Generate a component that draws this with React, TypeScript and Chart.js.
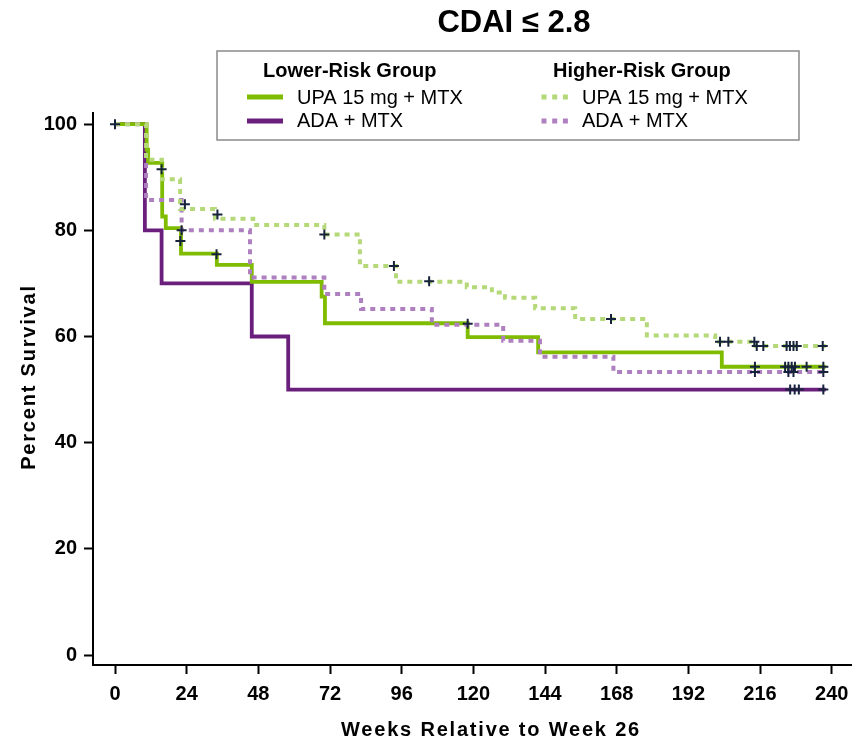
import React, { useEffect, useRef } from 'react';
import { Chart, registerables } from 'chart.js';

Chart.register(...registerables);

const FONT = '"Liberation Sans", Arial, Helvetica, sans-serif';

// Axis ticks
const xTickValues = [0, 24, 48, 72, 96, 120, 144, 168, 192, 216, 240];
const yTickValues = [0, 20, 40, 60, 80, 100];
const endWeek = 238;

// Lower-risk UPA 15 mg + MTX (solid green)
const lowerUpaWeeks = [0, 10.6, 11.1, 15.8, 17.0, 22.1, 34.1, 45.8, 69.2, 70.3, 118.1, 141.7, 203.2];
const lowerUpaPct = [100, 95.2, 92.7, 82.6, 80.4, 75.6, 73.5, 70.3, 67.5, 62.5, 59.9, 57.0, 54.3];
const lowerUpaCensorWeeks = [0, 15.6, 21.9, 34.0, 118.1, 214.3, 224.4, 225.5, 226.6, 227.7, 231.6, 237.2];
const lowerUpaCensorPct = [100, 91.5, 78.0, 75.5, 62.4, 54.3, 54.3, 54.3, 54.3, 54.3, 54.3, 54.3];

// Lower-risk ADA + MTX (solid purple)
const lowerAdaWeeks = [0, 10.0, 15.6, 45.8, 58.0];
const lowerAdaPct = [100, 80, 70, 60, 50];
const lowerAdaCensorWeeks = [226.1, 227.6, 229.0, 237.2];
const lowerAdaCensorPct = [50, 50, 50, 50];

// Higher-risk UPA 15 mg + MTX (dotted light green)
const higherUpaWeeks = [0, 10.4, 15.7, 21.8, 33.5, 46.3, 70.1, 82.0, 94.1, 117.8, 126.2, 130.6, 140.7, 154.1, 178.1, 201.0, 214.5];
const higherUpaPct = [100, 93.3, 89.6, 84.0, 82.2, 81.0, 79.2, 73.3, 70.3, 69.3, 68.3, 67.3, 65.3, 63.3, 60.2, 59.0, 58.2];
const higherUpaCensorWeeks = [23.4, 34.3, 70.1, 93.4, 105.2, 166.1, 202.6, 205.4, 214.1, 214.9, 217.1, 224.9, 226.0, 227.2, 228.3, 237.0];
const higherUpaCensorPct = [84.9, 83.0, 79.2, 73.3, 70.4, 63.3, 59.0, 59.0, 59.0, 58.2, 58.2, 58.2, 58.2, 58.2, 58.2, 58.2];

// Higher-risk ADA + MTX (dotted light purple)
const higherAdaWeeks = [0, 10.4, 22.3, 45.2, 70.1, 82.4, 106.1, 130.0, 142.3, 166.9];
const higherAdaPct = [100, 85.7, 80.0, 71.1, 68.0, 65.2, 62.2, 59.2, 56.2, 53.3];
const higherAdaCensorWeeks = [22.3, 214.3, 225.5, 227.2, 237.2];
const higherAdaCensorPct = [80.0, 53.3, 53.3, 53.3, 53.3];

const C_UPA = '#7fbc00';
const C_ADA = '#6b1f7d';
const C_UPA_HI = '#b5d878';
const C_ADA_HI = '#ae80c0';
const C_CENSOR = '#16223c';

function steps(weeks: number[], pct: number[], end: number) {
  const pts: { x: number; y: number }[] = [{ x: weeks[0], y: pct[0] }];
  for (let i = 1; i < weeks.length; i++) {
    pts.push({ x: weeks[i], y: pct[i - 1] });
    pts.push({ x: weeks[i], y: pct[i] });
  }
  pts.push({ x: end, y: pct[pct.length - 1] });
  return pts;
}

function pairs(xs: number[], ys: number[]) {
  return xs.map((x, i) => ({ x, y: ys[i] }));
}

const decorPlugin = {
  id: 'decor',
  afterDraw(chart: any) {
    const ctx: CanvasRenderingContext2D = chart.ctx;
    ctx.save();
    ctx.fillStyle = '#000';
    // Title
    ctx.font = `bold 31px ${FONT}`;
    ctx.textAlign = 'center';
    ctx.textBaseline = 'alphabetic';
    ctx.fillText('CDAI ≤ 2.8', 514, 32);

    // Legend box
    ctx.strokeStyle = '#8a8a8a';
    ctx.lineWidth = 1.5;
    ctx.strokeRect(217, 51, 582, 89);

    ctx.textAlign = 'left';
    ctx.font = `bold 20px ${FONT}`;
    ctx.fillText('Lower-Risk Group', 263, 77);
    ctx.fillText('Higher-Risk Group', 553, 77);

    const sample = (x0: number, x1: number, y: number, color: string, dash: number[]) => {
      ctx.beginPath();
      ctx.setLineDash(dash);
      ctx.strokeStyle = color;
      ctx.lineWidth = 5;
      ctx.lineCap = 'butt';
      ctx.moveTo(x0, y);
      ctx.lineTo(x1, y);
      ctx.stroke();
      ctx.setLineDash([]);
    };
    sample(247, 283, 97, C_UPA, []);
    sample(247, 283, 121, C_ADA, []);
    sample(541.5, 569, 97, C_UPA_HI, [5, 5.7]);
    sample(541.5, 569, 121, C_ADA_HI, [5, 5.7]);

    ctx.font = `20px ${FONT}`;
    ctx.fillStyle = '#000';
    ctx.fillText('UPA 15 mg + MTX', 297, 104);
    ctx.fillText('ADA + MTX', 297, 127);
    ctx.fillText('UPA 15 mg + MTX', 582, 104);
    ctx.fillText('ADA + MTX', 582, 127);

    // Axis titles
    ctx.font = `bold 20px ${FONT}`;
    (ctx as any).letterSpacing = '1.8px';
    ctx.textAlign = 'center';
    ctx.fillText('Weeks Relative to Week 26', 491, 736);
    ctx.translate(35, 377);
    ctx.rotate(-Math.PI / 2);
    ctx.fillText('Percent Survival', 0, 0);
    ctx.restore();
  },
};

export default function App() {
  const ref = useRef<HTMLCanvasElement>(null);
  useEffect(() => {
    document.body.style.margin = '0';
    const lineDs = (label: string, data: any[], color: string, dashed: boolean, order: number) => ({
      label,
      data,
      showLine: true,
      borderColor: color,
      backgroundColor: color,
      borderWidth: dashed ? 4 : 3.8,
      borderDash: dashed ? [5, 5] : [],
      borderCapStyle: 'butt',
      borderJoinStyle: 'miter',
      pointRadius: 0,
      pointHoverRadius: 0,
      fill: false,
      tension: 0,
      order,
    });
    const censorDs = (label: string, data: any[]) => ({
      label,
      data,
      showLine: false,
      pointStyle: 'cross',
      pointRadius: 5,
      pointBorderWidth: 2,
      pointBorderColor: C_CENSOR,
      pointBackgroundColor: C_CENSOR,
      order: 0,
    });
    const chart = new Chart(ref.current as HTMLCanvasElement, {
      type: 'scatter',
      data: {
        datasets: [
          lineDs('Lower UPA', steps(lowerUpaWeeks, lowerUpaPct, endWeek), C_UPA, false, 3),
          lineDs('Lower ADA', steps(lowerAdaWeeks, lowerAdaPct, endWeek), C_ADA, false, 3),
          lineDs('Higher UPA', steps(higherUpaWeeks, higherUpaPct, endWeek), C_UPA_HI, true, 2),
          lineDs('Higher ADA', steps(higherAdaWeeks, higherAdaPct, endWeek), C_ADA_HI, true, 2),
          censorDs('Lower UPA censored', pairs(lowerUpaCensorWeeks, lowerUpaCensorPct)),
          censorDs('Lower ADA censored', pairs(lowerAdaCensorWeeks, lowerAdaCensorPct)),
          censorDs('Higher UPA censored', pairs(higherUpaCensorWeeks, higherUpaCensorPct)),
          censorDs('Higher ADA censored', pairs(higherAdaCensorWeeks, higherAdaCensorPct)),
        ] as any,
      },
      options: {
        animation: false,
        responsive: false,
        devicePixelRatio: 1,
        layout: { autoPadding: false, padding: { top: 113, right: 0, left: 0, bottom: 0 } },
        plugins: {
          legend: { display: false },
          tooltip: { enabled: false },
          title: { display: false },
        },
        events: [],
        scales: {
          x: {
            type: 'linear',
            min: -7.37,
            max: 246.8,
            afterBuildTicks: (scale: any) => {
              scale.ticks = xTickValues.map((v) => ({ value: v }));
            },
            afterFit: (scale: any) => {
              scale.height = 77;
              scale.paddingLeft = 0;
              scale.paddingRight = 0;
            },
            grid: {
              display: true,
              drawOnChartArea: false,
              drawTicks: true,
              tickLength: 9,
              tickWidth: 2,
              tickColor: '#000',
            },
            border: { display: true, color: '#000', width: 2 },
            ticks: {
              color: '#000',
              font: { family: FONT, size: 20, weight: 'bold' },
              padding: 8,
              maxRotation: 0,
              autoSkip: false,
            },
          },
          y: {
            type: 'linear',
            min: -1.88,
            max: 102.1,
            afterBuildTicks: (scale: any) => {
              scale.ticks = yTickValues.map((v) => ({ value: v }));
            },
            afterFit: (scale: any) => {
              scale.width = 93;
              scale.paddingTop = 0;
              scale.paddingBottom = 0;
            },
            grid: {
              display: true,
              drawOnChartArea: false,
              drawTicks: true,
              tickLength: 9,
              tickWidth: 2,
              tickColor: '#000',
            },
            border: { display: true, color: '#000', width: 2 },
            ticks: {
              color: '#000',
              font: { family: FONT, size: 20, weight: 'bold' },
              padding: 7,
              autoSkip: false,
            },
          },
        },
      } as any,
      plugins: [decorPlugin],
    });
    return () => chart.destroy();
  }, []);
  return (
    <div style={{ width: 852, height: 742 }}>
      <canvas ref={ref} width={852} height={742} style={{ display: 'block' }} />
    </div>
  );
}
